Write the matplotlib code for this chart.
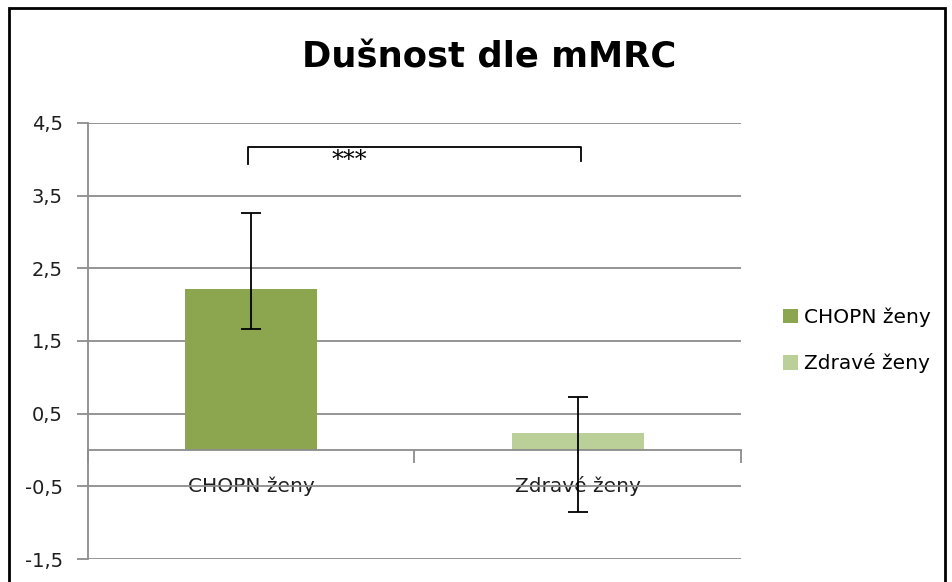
import matplotlib.pyplot as plt
from matplotlib.patches import Rectangle

# data
categories = ["CHOPN ženy", "Zdravé ženy"]
means = [2.22, 0.23]
err_low = [0.56, 1.08]
err_high = [1.04, 0.50]
bar_colors = ["#8BA64F", "#BBCF99"]
y_ticks = [-1.5, -0.5, 0.5, 1.5, 2.5, 3.5, 4.5]
y_tick_labels = ["-1,5", "-0,5", "0,5", "1,5", "2,5", "3,5", "4,5"]
title = "Dušnost dle mMRC"
signif = "***"

# the original picture is stretched sideways, DejaVu's wide letters suit it best
plt.rcParams['font.family'] = ['DejaVu Sans']

fig = plt.figure(figsize=(9.53, 5.82), dpi=100)
ax = fig.add_axes([0.0923, 0.0395, 0.6852, 0.7492])

x = list(range(len(categories)))
for i in x:
    ax.bar(x[i], means[i], width=0.405, color=bar_colors[i], zorder=2,
           label=categories[i])
    ax.errorbar(x[i], means[i], yerr=[[err_low[i]], [err_high[i]]],
                fmt='none', ecolor='black', elinewidth=1.3, capsize=7,
                capthick=1.3, zorder=3)

ax.set_xlim(-0.5, 1.5)
ax.set_ylim(-1.5, 4.5)

# gridlines and axes in Excel grey
grid_c = "#8c8c8c"
txt_c = "#1e1e1e"
ax.set_yticks(y_ticks)
ax.set_yticklabels(y_tick_labels, fontsize=14, color=txt_c)
ax.yaxis.grid(True, color=grid_c, linewidth=1.3, zorder=0)
ax.tick_params(axis='y', length=8, width=1.3, color=grid_c, pad=10)

ax.spines['top'].set_visible(False)
ax.spines['right'].set_visible(False)
ax.spines['left'].set_color(grid_c)
ax.spines['left'].set_linewidth(1.3)
ax.spines['bottom'].set_position(('data', 0))
ax.spines['bottom'].set_color(grid_c)
ax.spines['bottom'].set_linewidth(1.3)

ax.set_xticks([-0.5, 0.5, 1.5])
ax.set_xticklabels([])
ax.tick_params(axis='x', which='major', length=9, width=1.3, color=grid_c,
               direction='out')
ax.set_xticks(x, minor=True)
ax.set_xticklabels(categories, minor=True, fontsize=14.5, color=txt_c)
ax.tick_params(axis='x', which='minor', length=0, pad=19)

# significance bracket
ax.plot([-0.01, -0.01, 1.01, 1.01], [3.93, 4.17, 4.17, 3.97], color='black',
        linewidth=1.3, zorder=4)
ax.text(0.3, 3.98, signif, ha='center', va='center', fontsize=17,
        family='DejaVu Serif')

fig.text(0.513, 0.902, title, ha='center', va='center', fontsize=25.5,
         fontweight='bold', color='black')

fig.legend(loc='center left', bbox_to_anchor=(0.803, 0.415), frameon=False,
           fontsize=14.5, handlelength=0.75, handleheight=0.75,
           handletextpad=0.25, labelspacing=1.3)

# outer black frame of the chart
fig.patches.append(Rectangle((0.009, -0.05), 0.983, 1.036,
                             transform=fig.transFigure, fill=False,
                             edgecolor='black', linewidth=2))

fig.savefig("out.png", dpi=100)
